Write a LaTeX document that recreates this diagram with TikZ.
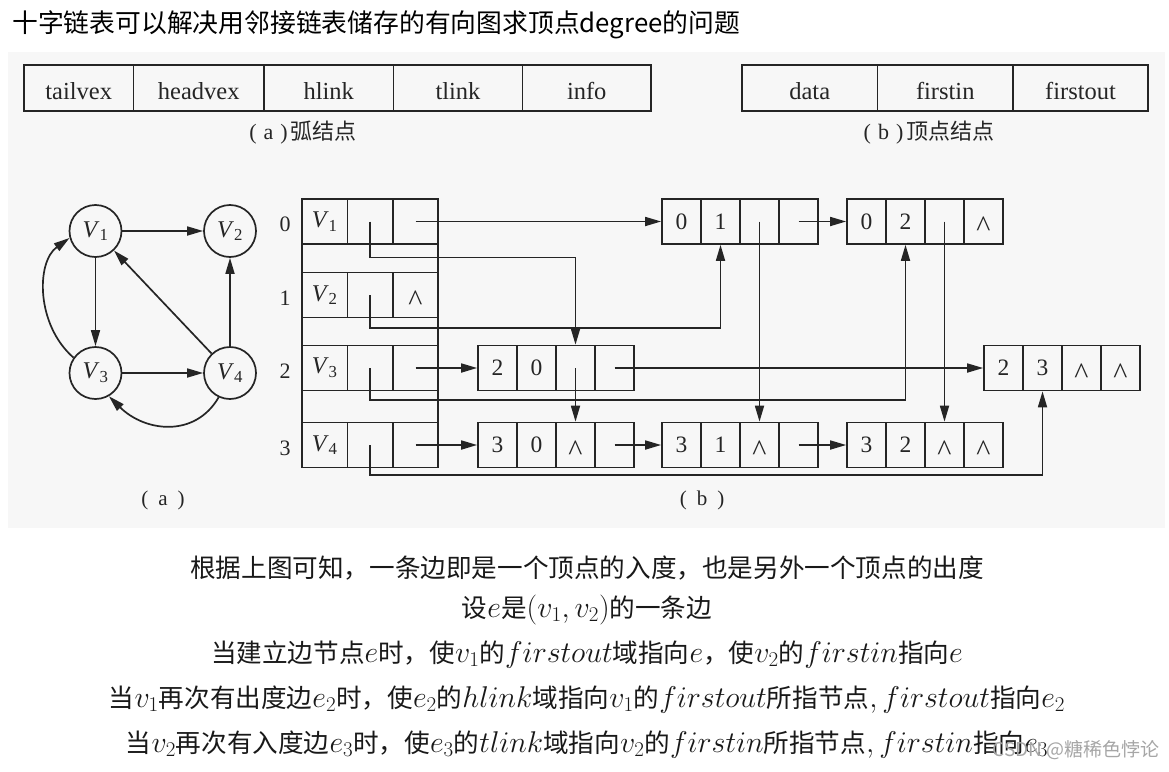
\RequirePackage{fix-cm}
\documentclass[tikz,border=0pt]{standalone}
\usepackage[no-math]{fontspec}
\setmainfont{Liberation Serif}
\newfontfamily\cjk{Noto Sans CJK SC}
\usetikzlibrary{arrows.meta}
\definecolor{ink}{HTML}{252525}
\definecolor{scan}{HTML}{F7F7F7}
\definecolor{wmark}{HTML}{A6A6A6}
\newcommand{\mth}[1]{{\fontsize{30}{36}\selectfont$#1$}}
\newcommand{\vtx}[1]{\textit{V}\textsubscript{#1}}
\newcommand{\nil}{\raisebox{-5.5pt}[\height][0pt]{\fontsize{30}{30}\selectfont\textasciicircum}}
\newcommand{\enode}[7]{%
  \node[cell] (#1a) at (#2+19.5,#3) {#4};
  \node[cell] (#1b) at (#2+58.5,#3) {#5};
  \node[cell] (#1c) at (#2+97.5,#3) {#6};
  \node[cell] (#1d) at (#2+136.5,#3) {#7};}
\newcommand{\vrow}[5]{%
  \node[vcell] (#1a) at (324.7,#2) {#3};
  \node[vcell] (#1b) at (370.1,#2) {#4};
  \node[vcell] (#1c) at (415.5,#2) {#5};}
\tikzset{
  ln/.style={line width=1.7pt, draw=ink},
  cell/.style={draw=ink, line width=1.7pt, rectangle, minimum width=39pt, minimum height=45pt,
    inner sep=0pt, font=\fontsize{23.5}{23.5}\selectfont, text=ink},
  vcell/.style={cell, minimum width=45.4pt, font=\fontsize{24}{24}\selectfont},
  hcell/.style={draw=ink, line width=1.7pt, rectangle, minimum height=46pt, inner sep=0pt,
    text height=22pt, text depth=0pt, font=\fontsize{24.5}{24.5}\selectfont, text=ink},
  ptr/.style={ln, -{Triangle[length=16pt,width=9pt]}},
  vnode/.style={circle, draw=ink, line width=1.7pt, minimum size=52pt, inner sep=0pt,
    font=\fontsize{24}{24}\selectfont, text=ink},
  lbl/.style={font=\fontsize{22}{22}\selectfont, text=ink, inner sep=0pt},
  captext/.style={font=\fontsize{22}{22}\selectfont, text=ink, inner sep=0pt},
  txt/.style={font=\cjk\fontsize{25.6}{30}\selectfont, text=black!90, inner sep=0pt, anchor=base},
}
\begin{document}
\begin{tikzpicture}[x=1pt,y=-1pt]
\useasboundingbox (0,0) rectangle (1169,771);
\fill[white] (0,0) rectangle (1169,771);
\fill[scan] (8,52) rectangle (1165,528);

% title
\node[anchor=base west, inner sep=0pt, font=\cjk\fontsize{25.8}{30}\selectfont] (title) at (12,32)
  {十字链表可以解决用邻接链表储存的有向图求顶点degree的问题};

% arc node layout
\node[hcell, minimum width=109.5pt] (ta1) at (78.75,88) {tailvex};
\node[hcell, minimum width=130.5pt] (ta2) at (198.75,88) {headvex};
\node[hcell, minimum width=129.5pt] (ta3) at (328.75,88) {hlink};
\node[hcell, minimum width=129pt] (ta4) at (458,88) {tlink};
\node[hcell, minimum width=128.5pt] (ta5) at (586.75,88) {info};
\node[captext] (capta) at (303,133) {(\kern7pt a\kern7pt)\kern3pt{\cjk 弧结点}};

% vertex node layout
\node[hcell, minimum width=135.5pt] (tb1) at (809.75,88) {data};
\node[hcell, minimum width=135.5pt] (tb2) at (945.25,88) {firstin};
\node[hcell, minimum width=135pt] (tb3) at (1080.5,88) {firstout};
\node[captext] (captb) at (929,133) {(\kern7pt b\kern7pt)\kern3pt{\cjk 顶点结点}};

% graph (a)
\node[vnode] (V1) at (95.5,231) {\vtx{1}};
\node[vnode] (V2) at (230,231) {\vtx{2}};
\node[vnode] (V3) at (95.5,373) {\vtx{3}};
\node[vnode] (V4) at (230,373) {\vtx{4}};
\draw[ptr] (V1) -- (V2);
\draw[ptr] (V1) -- (V3);
\draw[ptr] (V3) -- (V4);
\draw[ptr] (V4) -- (V2);
\draw[ptr] (V4) -- (V1);
\draw[ptr] (V3.145) .. controls (36,325) and (36,262) .. (V1.195);
\draw[ptr] (V4.245) .. controls (195,438) and (145,432) .. (V3.300);
\node[lbl, font=\fontsize{21}{21}\selectfont] (capa) at (163,500) {(\kern10pt a\kern10pt)};

% index labels
\node[lbl] (i0) at (285,224) {0};
\node[lbl] (i1) at (285,298) {1};
\node[lbl] (i2) at (285,371) {2};
\node[lbl] (i3) at (285,448) {3};

% vertex table
\draw[ln] (302,199) rectangle (438.2,467.5);
\vrow{v1}{221.5}{\vtx{1}}{}{}
\vrow{v2}{295}{\vtx{2}}{}{\nil}
\vrow{v3}{368}{\vtx{3}}{}{}
\vrow{v4}{445}{\vtx{4}}{}{}

% arc nodes
\enode{e01}{662}{221.5}{0}{1}{}{}
\enode{e02}{847}{221.5}{0}{2}{}{\nil}
\enode{e20}{478}{368}{2}{0}{}{}
\enode{e23}{984}{368}{2}{3}{\nil}{\nil}
\enode{e30}{478}{445}{3}{0}{\nil}{}
\enode{e31}{662}{445}{3}{1}{\nil}{}
\enode{e32}{847}{445}{3}{2}{\nil}{\nil}

% firstout pointers
\draw[ptr] (v1c.center) -- (e01a.west);
\draw[ptr] (v3c.center) -- (e20a.west);
\draw[ptr] (v4c.center) -- (e30a.west);
% firstin pointers
\draw[ptr] (v1b.center) -- ++(0,36) -| (e20c.north);
\draw[ptr] (v2b.center) -- ++(0,33) -| (e01b.south);
\draw[ptr] (v3b.center) -- ++(0,32) -| (e02b.south);
\draw[ptr] (v4b.center) -- ++(0,30) -| (e23b.south);
% tlink pointers
\draw[ptr] (e01d.center) -- (e02a.west);
\draw[ptr] (e20d.center) -- (e23a.west);
\draw[ptr] (e30d.center) -- (e31a.west);
\draw[ptr] (e31d.center) -- (e32a.west);
% hlink pointers
\draw[ptr] (e20c.center) -- (e30c.north);
\draw[ptr] (e01c.center) -- (e31c.north);
\draw[ptr] (e02c.center) -- (e32c.north);

\node[lbl, font=\fontsize{21}{21}\selectfont] (capb) at (702,500) {(\kern10pt b\kern10pt)};

% explanation text
\node[txt] (l1) at (587,577) {根据上图可知，一条边即是一个顶点的入度，也是另外一个顶点的出度};
\node[txt] (l2) at (587,617) {设\mth{e}是\mth{(v_1,v_2)}的一条边};
\node[txt] (l3) at (587,662) {当建立边节点\mth{e}时，使\mth{v_1}的\mth{firstout}域指向\mth{e}，使\mth{v_2}的\mth{firstin}指向\mth{e}};
\node[txt] (l4) at (587,707) {当\mth{v_1}再次有出度边\mth{e_2}时，使\mth{e_2}的\mth{hlink}域指向\mth{v_1}的\mth{firstout}所指节点\mth{,firstout}指向\mth{e_2}};
\node[txt] (l5) at (587,752) {当\mth{v_2}再次有入度边\mth{e_3}时，使\mth{e_3}的\mth{tlink}域指向\mth{v_2}的\mth{firstin}所指节点\mth{,firstin}指向\mth{e_3}};

% watermark
\node[anchor=east, inner sep=0pt, text=wmark, font=\cjk\fontsize{19}{19}\selectfont] (wm) at (1160,750) {CSDN @糖稀色悖论};
\end{tikzpicture}
\end{document}
